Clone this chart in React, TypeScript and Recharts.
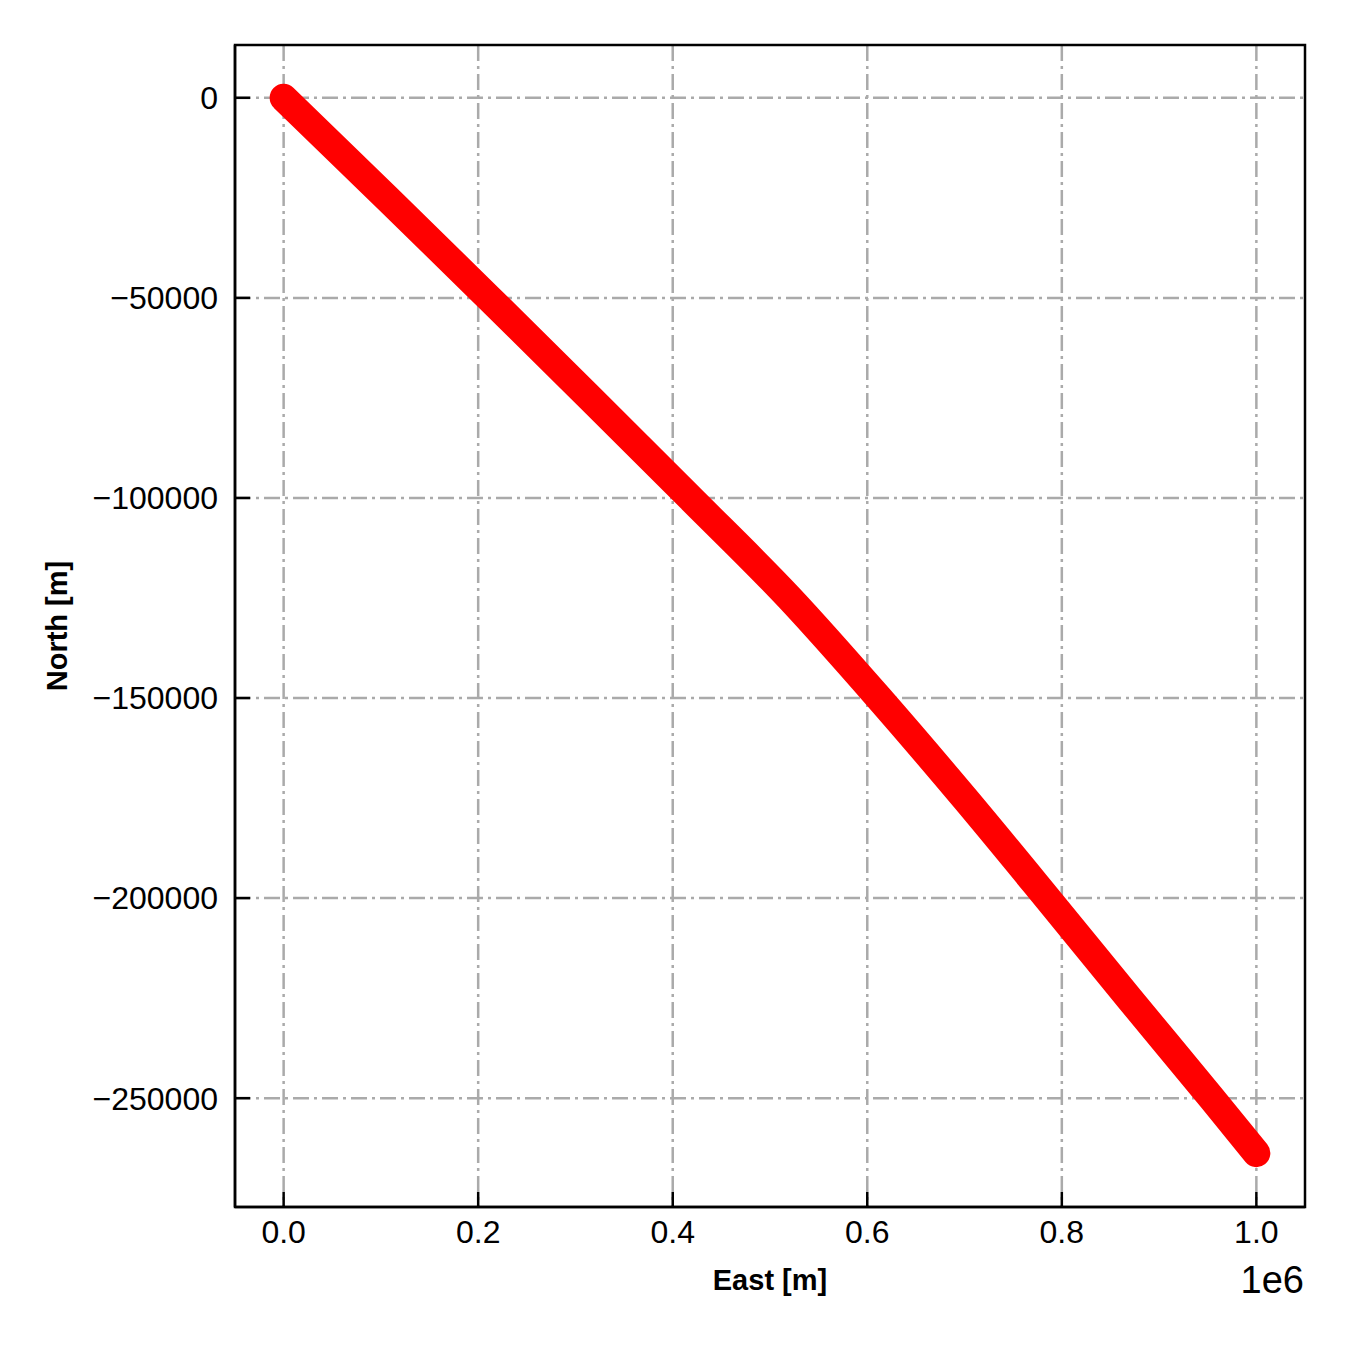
import { CartesianGrid, Line, LineChart, ReferenceArea, XAxis, YAxis } from "recharts"

// track, east in metres
const east = [0, 106000, 211000, 315000, 418000, 520000, 612000, 700000, 785000, 869000, 954000, 1000000]
// north in metres
const north = [0, -25000, -50000, -75000, -100000, -125000, -150000, -175000, -200000, -225000, -250000, -263750]

const xTicks = [0, 200000, 400000, 600000, 800000, 1000000]
const yTicks = [-250000, -200000, -150000, -100000, -50000, 0]

const xDomain = [-50000, 1050000]
const yDomain = [-277200, 13200]

const data = east.map((e, i) => ({ east: e, north: north[i] }))

const FONT = '"Liberation Sans", Arial, Helvetica, sans-serif'

const fmtX = (v: number) => (v / 1e6).toFixed(1)
const fmtY = (v: number) => (v < 0 ? "\u2212" + Math.abs(v) : String(v))

const XTitle = () => (
  <g>
    <text x={770} y={1290} textAnchor="middle" fontFamily={FONT} fontSize={29} fontWeight="bold" fill="#000">
      East [m]
    </text>
    <text x={1304} y={1293} textAnchor="end" fontFamily={FONT} fontSize={38} fill="#000">
      1e6
    </text>
  </g>
)

const YTitle = () => (
  <text
    x={67}
    y={626}
    transform="rotate(-90 67 626)"
    textAnchor="middle"
    fontFamily={FONT}
    fontSize={29}
    fontWeight="bold"
    fill="#000"
  >
    North [m]
  </text>
)

const tickStyle = { fill: "#000", fontSize: 32, fontFamily: FONT }
const spine = { stroke: "#000", strokeWidth: 2.5 }

export default function App() {
  return (
    <div style={{ position: "absolute", left: 0, top: 0, width: 1350, height: 1350, background: "#fff" }}>
      <LineChart
        width={1350}
        height={1350}
        data={data}
        margin={{ top: 45, right: 45, bottom: 83, left: 85 }}
      >
        <CartesianGrid stroke="#aaaaaa" strokeWidth={2.5} strokeDasharray="16 5 3 5" syncWithTicks />
        <XAxis
          dataKey="east"
          type="number"
          domain={xDomain}
          allowDataOverflow
          ticks={xTicks}
          tickFormatter={fmtX}
          height={60}
          tickSize={-15}
          tickMargin={28}
          tick={tickStyle}
          tickLine={spine}
          axisLine={spine}
          label={<XTitle />}
        />
        <YAxis
          type="number"
          domain={yDomain}
          allowDataOverflow
          ticks={yTicks}
          tickFormatter={fmtY}
          width={150}
          tickSize={-15}
          tickMargin={32}
          tick={tickStyle}
          tickLine={spine}
          axisLine={spine}
          label={<YTitle />}
        />
        <Line
          dataKey="north"
          type="monotone"
          stroke="#ff0000"
          strokeWidth={28}
          strokeLinecap="round"
          strokeLinejoin="round"
          dot={false}
          isAnimationActive={false}
        />
        <ReferenceArea
          x1={xDomain[0]}
          x2={xDomain[1]}
          y1={yDomain[0]}
          y2={yDomain[1]}
          fill="none"
          fillOpacity={0}
          stroke="#000"
          strokeWidth={2.5}
          ifOverflow="visible"
        />
      </LineChart>
    </div>
  )
}
